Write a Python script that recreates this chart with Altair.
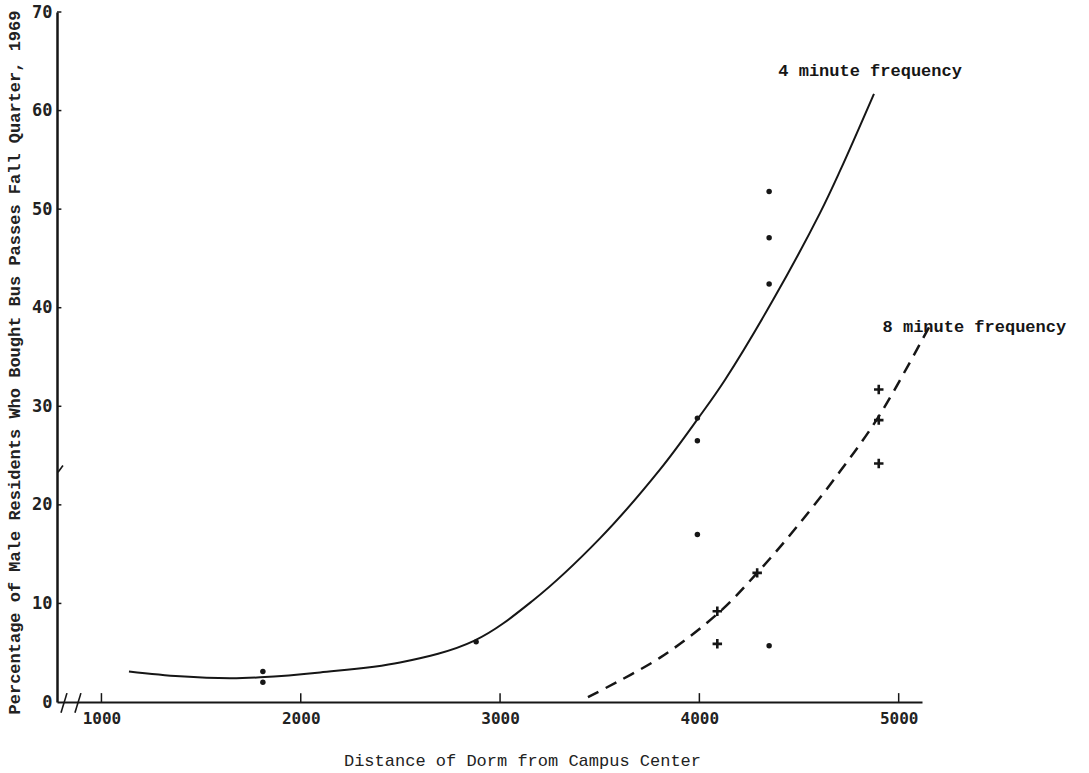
import altair as alt
import pandas as pd

# Observed dorms, 4-minute bus frequency (dots)
dist_4min = [1810, 1810, 2880, 3990, 3990, 3990, 4350, 4350, 4350, 4350]
pct_4min = [3.1, 2.0, 6.1, 28.8, 26.5, 17.0, 51.8, 47.1, 42.4, 5.7]

# Observed dorms, 8-minute bus frequency (plus signs)
dist_8min = [4090, 4090, 4290, 4900, 4900, 4900]
pct_8min = [9.2, 5.9, 13.1, 31.7, 28.6, 24.2]

# Hand-fitted trend curves
curve4_dist = [1138, 1394, 1645, 1796, 2097, 2498, 2869, 3165, 3501, 3803, 3998, 4129, 4370, 4605, 4706, 4876]
curve4_pct = [3.1, 2.6, 2.4, 2.5, 3.0, 4.0, 6.2, 10.3, 16.6, 23.6, 28.9, 32.7, 40.8, 49.6, 53.9, 61.7]

curve8_dist = [3441, 3803, 4099, 4299, 4490, 4706, 4901, 5157]
curve8_pct = [0.5, 4.5, 9.1, 13.3, 17.8, 23.4, 29.0, 38.2]

x_ticks = [1000, 2000, 3000, 4000, 5000]
y_ticks = [0, 10, 20, 30, 40, 50, 60, 70]

curve_labels = ["4 minute frequency", "8 minute frequency"]

X_DOMAIN = [777, 5117]
Y_DOMAIN = [0, 70]
INK = "#161616"

x_enc = alt.X(
    "dist:Q",
    scale=alt.Scale(domain=X_DOMAIN, nice=False, zero=False),
    title="Distance of Dorm from Campus Center",
    axis=alt.Axis(
        values=x_ticks, format="d", ticks=False, grid=False,
        domainColor=INK, domainWidth=2,
        labelFont="DejaVu Sans Mono", labelFontSize=16, labelFontWeight="bold",
        labelColor="#222", labelPadding=8, labelFlush=False,
        titleFont="Liberation Mono", titleFontSize=17, titleFontWeight="normal",
        titleColor="#222", titleX=465, titleY=58, titleAlign="center",
        titleBaseline="middle",
    ),
)
y_enc = alt.Y(
    "pct:Q",
    scale=alt.Scale(domain=Y_DOMAIN, nice=False),
    title="Percentage of Male Residents Who Bought Bus Passes Fall Quarter, 1969",
    axis=alt.Axis(
        values=y_ticks, format="d", ticks=False, grid=False,
        domainColor=INK, domainWidth=2.5,
        labelFont="DejaVu Sans Mono", labelFontSize=17, labelFontWeight="bold",
        labelColor="#222", labelPadding=5,
        titleFont="Liberation Mono", titleFontSize=17, titleFontWeight="bold",
        titleColor="#222", titleX=-43, titleY=350, titleAngle=270,
        titleAlign="center", titleBaseline="middle",
    ),
)

df4 = pd.DataFrame({"dist": dist_4min, "pct": pct_4min})
df8 = pd.DataFrame({"dist": dist_8min, "pct": pct_8min})
c4 = pd.DataFrame({"dist": curve4_dist, "pct": curve4_pct})
c8 = pd.DataFrame({"dist": curve8_dist, "pct": curve8_pct})

line4 = alt.Chart(c4).mark_line(
    color=INK, strokeWidth=2, interpolate="catmull-rom"
).encode(x=x_enc, y=y_enc)

line8 = alt.Chart(c8).mark_line(
    color=INK, strokeWidth=2.5, strokeDash=[12, 8], interpolate="catmull-rom"
).encode(x=x_enc, y=y_enc)

dots = alt.Chart(df4).mark_circle(
    color=INK, size=30, opacity=1
).encode(x=x_enc, y=y_enc)

pluses = alt.Chart(df8).mark_point(
    shape="M-1,0H1M0,-1V1", size=90, strokeWidth=2.6, color=INK, filled=False, opacity=1
).encode(x=x_enc, y=y_enc)

# Inward tick marks on both axes
xt = pd.DataFrame({"dist": x_ticks, "pct": [0] * len(x_ticks), "pct2": [0.9] * len(x_ticks)})
x_tick_marks = alt.Chart(xt).mark_rule(color=INK, strokeWidth=1.5).encode(
    x=x_enc, y=y_enc, y2="pct2:Q"
)
yt = pd.DataFrame({"pct": y_ticks[1:], "dist": [X_DOMAIN[0]] * 7, "dist2": [X_DOMAIN[0] + 22] * 7})
y_tick_marks = alt.Chart(yt).mark_rule(color=INK, strokeWidth=1.5).encode(
    x=x_enc, x2="dist2:Q", y=y_enc
)

# Axis-break slashes
brk = pd.DataFrame({
    "dist": [797, 867, 782], "dist2": [827, 897, 807],
    "pct": [-1.1, -1.1, 23.3], "pct2": [0.9, 0.9, 24.0],
})
breaks = alt.Chart(brk).mark_rule(color=INK, strokeWidth=1.6).encode(
    x=x_enc, x2="dist2:Q", y=y_enc, y2="pct2:Q"
)

ann = pd.DataFrame({"dist": [4396, 4919], "pct": [64.0, 38.0], "label": curve_labels})
labels = alt.Chart(ann).mark_text(
    align="left", baseline="middle", font="Liberation Mono", fontSize=17,
    fontWeight="bold", color=INK
).encode(x=x_enc, y=y_enc, text="label:N")

chart = alt.layer(
    line4, line8, dots, pluses, x_tick_marks, y_tick_marks, breaks, labels
).properties(
    width=865, height=690,
    padding={"left": 57, "top": 12, "right": 167, "bottom": 71},
    autosize=alt.AutoSizeParams(type="none"),
    background="white",
).configure_view(stroke=None)

chart.save("out.html", embed_options={"renderer": "svg", "actions": False})
